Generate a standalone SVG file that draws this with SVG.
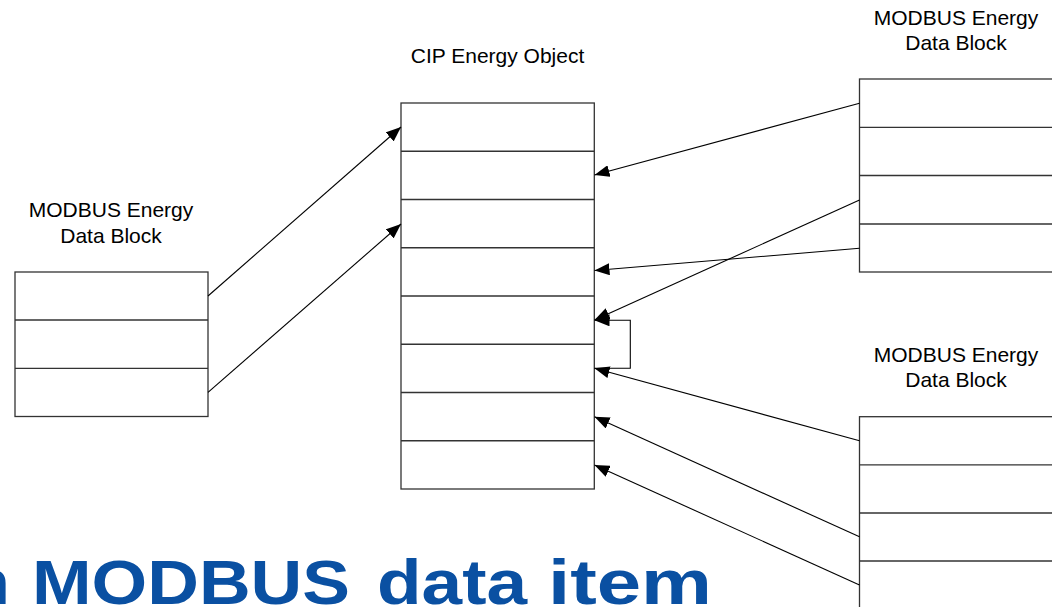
<svg xmlns="http://www.w3.org/2000/svg" width="1052" height="607" viewBox="0 0 1052 607">
<style>
.box{fill:#fff;stroke:#333;stroke-width:1.3}
.row{stroke:#333;stroke-width:1.3}
.lbl{font-family:"Liberation Sans",Arial,sans-serif;font-size:21px;fill:#000;text-anchor:middle}
.con{fill:none;stroke:#000;stroke-width:1.1;marker-end:url(#arr)}
.title{font-family:"Liberation Sans",Arial,sans-serif;font-size:63px;font-weight:bold;fill:#0a50a2}
</style>
<defs>
<marker id="arr" markerUnits="userSpaceOnUse" viewBox="0 0 15 12" markerWidth="15" markerHeight="12" refX="15" refY="6" orient="auto">
<path d="M0,0 L15,6 L0,12 z" fill="#000"/>
</marker>
</defs>
<rect width="1052" height="607" fill="#fff"/>
<g id="title">
<text class="title" y="603.5"><tspan x="-29">n</tspan><tspan x="32" textLength="318" lengthAdjust="spacingAndGlyphs">MODBUS</tspan><tspan x="377" textLength="150" lengthAdjust="spacingAndGlyphs">data</tspan><tspan x="548" textLength="164" lengthAdjust="spacingAndGlyphs">item</tspan></text>
</g>
<g id="left-block">
<text class="lbl" x="111" y="217">MODBUS Energy</text>
<text class="lbl" x="111" y="243">Data Block</text>
<rect class="box" x="15" y="272" width="193" height="144.5"/>
<line class="row" x1="15" y1="320" x2="208" y2="320"/>
<line class="row" x1="15" y1="368.3" x2="208" y2="368.3"/>
</g>
<g id="cip-object">
<text class="lbl" x="497.5" y="63">CIP Energy Object</text>
<rect class="box" x="401" y="103" width="193.3" height="386"/>
<line class="row" x1="401" y1="151.25" x2="594.3" y2="151.25"/>
<line class="row" x1="401" y1="199.5" x2="594.3" y2="199.5"/>
<line class="row" x1="401" y1="247.75" x2="594.3" y2="247.75"/>
<line class="row" x1="401" y1="296" x2="594.3" y2="296"/>
<line class="row" x1="401" y1="344.25" x2="594.3" y2="344.25"/>
<line class="row" x1="401" y1="392.5" x2="594.3" y2="392.5"/>
<line class="row" x1="401" y1="440.75" x2="594.3" y2="440.75"/>
</g>
<g id="top-right-block">
<text class="lbl" x="956" y="25">MODBUS Energy</text>
<text class="lbl" x="956" y="50">Data Block</text>
<rect class="box" x="859.5" y="79" width="250" height="193"/>
<line class="row" x1="859.5" y1="127.3" x2="1109.5" y2="127.3"/>
<line class="row" x1="859.5" y1="175.5" x2="1109.5" y2="175.5"/>
<line class="row" x1="859.5" y1="224" x2="1109.5" y2="224"/>
</g>
<g id="bottom-right-block">
<text class="lbl" x="956" y="362">MODBUS Energy</text>
<text class="lbl" x="956" y="387">Data Block</text>
<rect class="box" x="859.5" y="416.7" width="250" height="240"/>
<line class="row" x1="859.5" y1="464.8" x2="1109.5" y2="464.8"/>
<line class="row" x1="859.5" y1="513" x2="1109.5" y2="513"/>
<line class="row" x1="859.5" y1="561" x2="1109.5" y2="561"/>
</g>
<g id="connectors">
<line class="con" x1="208" y1="296" x2="401" y2="127"/>
<line class="con" x1="208" y1="392.3" x2="401" y2="224"/>
<line class="con" x1="859.5" y1="103.3" x2="594.5" y2="175"/>
<line class="con" x1="859.5" y1="248.3" x2="594.5" y2="270.5"/>
<line class="con" x1="859.5" y1="200" x2="594.5" y2="320"/>
<polyline class="con" points="594.5,368.3 630.3,368.3 630.3,320.3 594.5,320.3"/>
<line class="con" x1="859.5" y1="440.7" x2="594.5" y2="368.3"/>
<line class="con" x1="859.5" y1="536.8" x2="594.5" y2="416.8"/>
<line class="con" x1="859.5" y1="585" x2="594.5" y2="465"/>
</g>
</svg>
